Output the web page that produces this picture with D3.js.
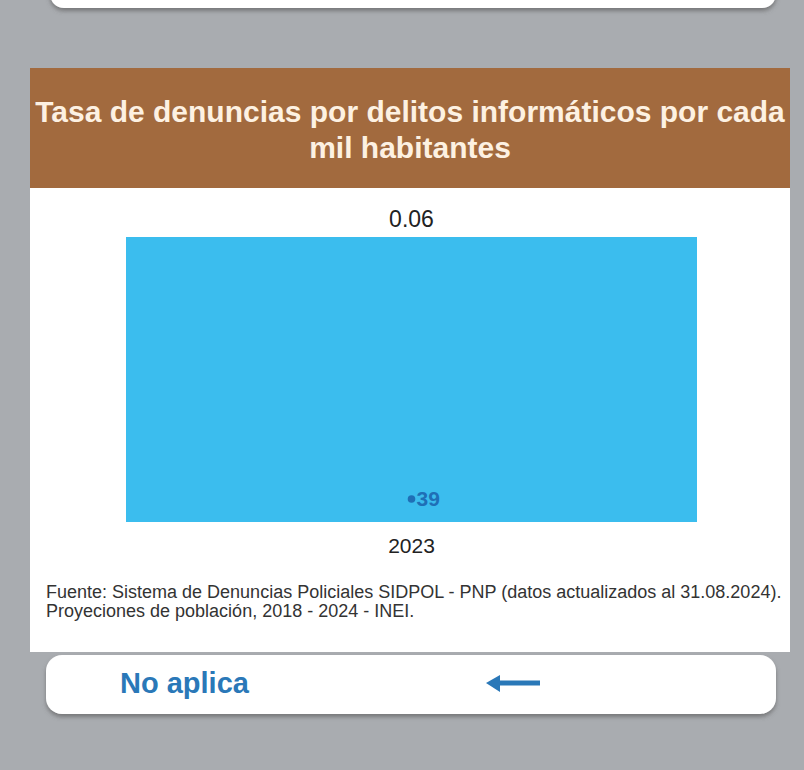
<!DOCTYPE html>
<html>
<head>
<meta charset="utf-8">
<script src="https://cdn.jsdelivr.net/npm/d3@7"></script>
<style>
  body { margin: 0; background: #a9acb0; }
  svg { display: block; font-family: "Liberation Sans", Arial, Helvetica, sans-serif; }
</style>
</head>
<body>
<div id="chart"></div>
<script>
var titleLines = ["Tasa de denuncias por delitos informáticos por cada", "mil habitantes"],
    years = ["2023"],
    rates = [0.06],
    counts = [39],
    sourceLines = ["Fuente: Sistema de Denuncias Policiales SIDPOL - PNP (datos actualizados al 31.08.2024).",
                   "Proyeciones de población, 2018 - 2024 - INEI."],
    footerLabel = "No aplica";

var width = 804,
    height = 770,
    panel = {left: 30, right: 790, top: 68, head: 188, bottom: 652},
    plot = {left: 126, right: 697, top: 237, bottom: 522};

var svg = d3.select("#chart").append("svg")
    .attr("width", width)
    .attr("height", height);

var defs = svg.append("defs");
defs.append("filter")
    .attr("id", "shadow")
    .attr("x", "-5%").attr("y", "-20%")
    .attr("width", "110%").attr("height", "150%")
  .append("feDropShadow")
    .attr("dx", 0).attr("dy", 3)
    .attr("stdDeviation", 2)
    .attr("flood-color", "#555")
    .attr("flood-opacity", 0.6);

svg.append("rect")
    .attr("width", width)
    .attr("height", height)
    .attr("fill", "#a9acb0");

// card cut off at the top
svg.append("rect")
    .attr("x", 50).attr("y", -40)
    .attr("width", 726).attr("height", 48)
    .attr("rx", 14)
    .attr("fill", "#fff")
    .attr("filter", "url(#shadow)");

// panel
svg.append("rect")
    .attr("x", panel.left).attr("y", panel.head)
    .attr("width", panel.right - panel.left)
    .attr("height", panel.bottom - panel.head)
    .attr("fill", "#fff");

svg.append("rect")
    .attr("x", panel.left).attr("y", panel.top)
    .attr("width", panel.right - panel.left)
    .attr("height", panel.head - panel.top)
    .attr("fill", "#a26a3e");

svg.append("text")
    .attr("text-anchor", "middle")
    .attr("fill", "#fdf1e2")
    .style("font-size", "30px")
    .style("font-weight", "bold")
  .selectAll("tspan")
    .data(titleLines)
  .enter().append("tspan")
    .attr("x", (panel.left + panel.right) / 2)
    .attr("y", function(d, i) { return 122 + i * 36; })
    .text(function(d) { return d; });

// chart
var x = d3.scaleBand()
    .domain(years)
    .range([plot.left, plot.right])
    .padding(0);

var y = d3.scaleLinear()
    .domain([0, d3.max(rates)])
    .range([plot.bottom, plot.top]);

svg.selectAll(".bar")
    .data(rates)
  .enter().append("rect")
    .attr("class", "bar")
    .attr("x", function(d, i) { return x(years[i]); })
    .attr("y", function(d) { return y(d); })
    .attr("width", x.bandwidth())
    .attr("height", function(d) { return y(0) - y(d); })
    .attr("fill", "#3bbdee");

svg.selectAll(".value")
    .data(rates)
  .enter().append("text")
    .attr("class", "value")
    .attr("x", function(d, i) { return x(years[i]) + x.bandwidth() / 2; })
    .attr("y", function(d) { return y(d) - 10; })
    .attr("text-anchor", "middle")
    .attr("fill", "#222")
    .style("font-size", "23px")
    .text(function(d) { return d.toFixed(2); });

var countLabel = svg.selectAll(".count")
    .data(counts)
  .enter().append("g")
    .attr("class", "count")
    .attr("transform", function(d, i) { return "translate(" + (x(years[i]) + x.bandwidth() / 2) + "," + (y(0) - 16) + ")"; });

countLabel.append("circle")
    .attr("cx", 0).attr("cy", -7)
    .attr("r", 3.8)
    .attr("fill", "#1f6fb6");

countLabel.append("text")
    .attr("x", 5)
    .attr("fill", "#1f6fb6")
    .style("font-size", "21px")
    .style("font-weight", "bold")
    .text(function(d) { return d; });

svg.append("g")
    .attr("transform", "translate(0," + plot.bottom + ")")
    .call(d3.axisBottom(x).tickSize(0).tickPadding(16))
    .call(function(g) { g.select(".domain").remove(); })
    .selectAll("text")
    .attr("fill", "#222")
    .style("font-size", "21px")
    .style("font-family", "Liberation Sans, Arial, sans-serif");

svg.append("text")
    .attr("fill", "#333")
    .style("font-size", "18px")
  .selectAll("tspan")
    .data(sourceLines)
  .enter().append("tspan")
    .attr("x", 46)
    .attr("y", function(d, i) { return 598 + i * 19; })
    .text(function(d) { return d; });

// bottom card
svg.append("rect")
    .attr("x", 46).attr("y", 655)
    .attr("width", 730).attr("height", 59)
    .attr("rx", 16)
    .attr("fill", "#fff")
    .attr("filter", "url(#shadow)");

svg.append("text")
    .attr("x", 120).attr("y", 693)
    .attr("fill", "#2a78b8")
    .style("font-size", "29px")
    .style("font-weight", "bold")
    .text(footerLabel);

svg.append("line")
    .attr("x1", 496).attr("y1", 683)
    .attr("x2", 540).attr("y2", 683)
    .attr("stroke", "#2a78b8")
    .attr("stroke-width", 5);

svg.append("path")
    .attr("d", "M486,683 L500,675 L500,692 Z")
    .attr("fill", "#2a78b8");
</script>
</body>
</html>
